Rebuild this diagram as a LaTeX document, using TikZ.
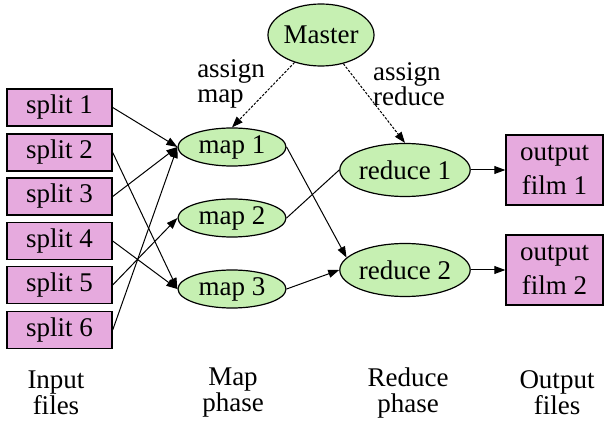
\documentclass[tikz,border=0pt]{standalone}
\usepackage{fontspec}
\setmainfont{Liberation Serif}
\usepackage{xcolor}
\usetikzlibrary{shapes.geometric,arrows.meta}

\definecolor{filepink}{RGB}{230,170,222}
\definecolor{taskgreen}{RGB}{198,240,178}

\tikzset{
  file/.style={draw,fill=filepink,line width=1.4pt,inner sep=0pt,
    minimum width=105pt,minimum height=37pt},
  outfile/.style={file,align=center,minimum width=97pt,minimum height=70pt,
    font=\fontsize{27}{34}\selectfont},
  task/.style={draw,ellipse,fill=taskgreen,line width=1.2pt,inner sep=0pt},
  flow/.style={-{Triangle[length=11pt,width=8pt]},line width=1pt},
  ctrl/.style={flow,dash pattern=on 2.5pt off 1.5pt},
  phase/.style={align=center,font=\fontsize{27}{26}\selectfont},
}

\begin{document}
\begin{tikzpicture}[x=1pt,y=-1pt,font=\fontsize{27}{25}\selectfont]
  \useasboundingbox (0,0) rectangle (606,422);

  % input splits
  \node[file] (split1) at (59.5,107.5) {split 1};
  \node[file] (split2) at (59.5,152.5) {split 2};
  \node[file] (split3) at (59.5,196.5) {split 3};
  \node[file] (split4) at (59.5,241) {split 4};
  \node[file] (split5) at (59.5,285) {split 5};
  \node[file] (split6) at (59.5,330) {split 6};

  % workers
  \node[task,minimum width=101pt,minimum height=62pt] (master) at (321,35) {Master};
  \node[task,minimum width=108pt,minimum height=38pt] (map1) at (232,147) {map 1};
  \node[task,minimum width=108pt,minimum height=38pt] (map2) at (232,218) {map 2};
  \node[task,minimum width=108pt,minimum height=38pt] (map3) at (232,289) {map 3};
  \node[task,minimum width=116pt,minimum height=53pt] (reduce1) at (405,170) {reduce 1};
  \node[task,minimum width=116pt,minimum height=53pt] (reduce2) at (405,270) {reduce 2};

  % results
  \node[outfile] (out1) at (554.5,170) {output\\film 1};
  \node[outfile] (out2) at (554.5,270) {output\\film 2};

  % master hands out the work
  \draw[ctrl] (master) -- (map1.north);
  \draw[ctrl] (master) -- (reduce1.north);
  \node[align=left] (amap) at (231,84) {assign\\map};
  \node[align=left] (ared) at (409,84) {assign\\reduce};

  % splits into mappers
  \draw[flow] (split1.east) -- (map1.west);
  \draw[flow] (split3.east) -- (map1.west);
  \draw[flow] (split6.east) -- (map1.west);
  \draw[flow] (split5.east) -- (map2.west);
  \draw[flow] (split2.east) -- (map3.west);
  \draw[flow] (split4.east) -- (map3.west);

  % mappers into reducers
  \draw[flow] (map1.east) -- (reduce2.168);
  \draw[line width=1pt] (map2.east) -- (reduce1.west);
  \draw[flow] (map3.east) -- (reduce2.west);

  % reducers into output
  \draw[flow] (reduce1.east) -- (out1.west);
  \draw[flow] (reduce2.east) -- (out2.west);

  % column captions
  \node[phase] (capin) at (56,393) {Input\\files};
  \node[phase] (capmap) at (233,393) {Map\\phase};
  \node[phase] (capred) at (408,393) {Reduce\\phase};
  \node[phase] (capout) at (557,393) {Output\\files};
\end{tikzpicture}
\end{document}
